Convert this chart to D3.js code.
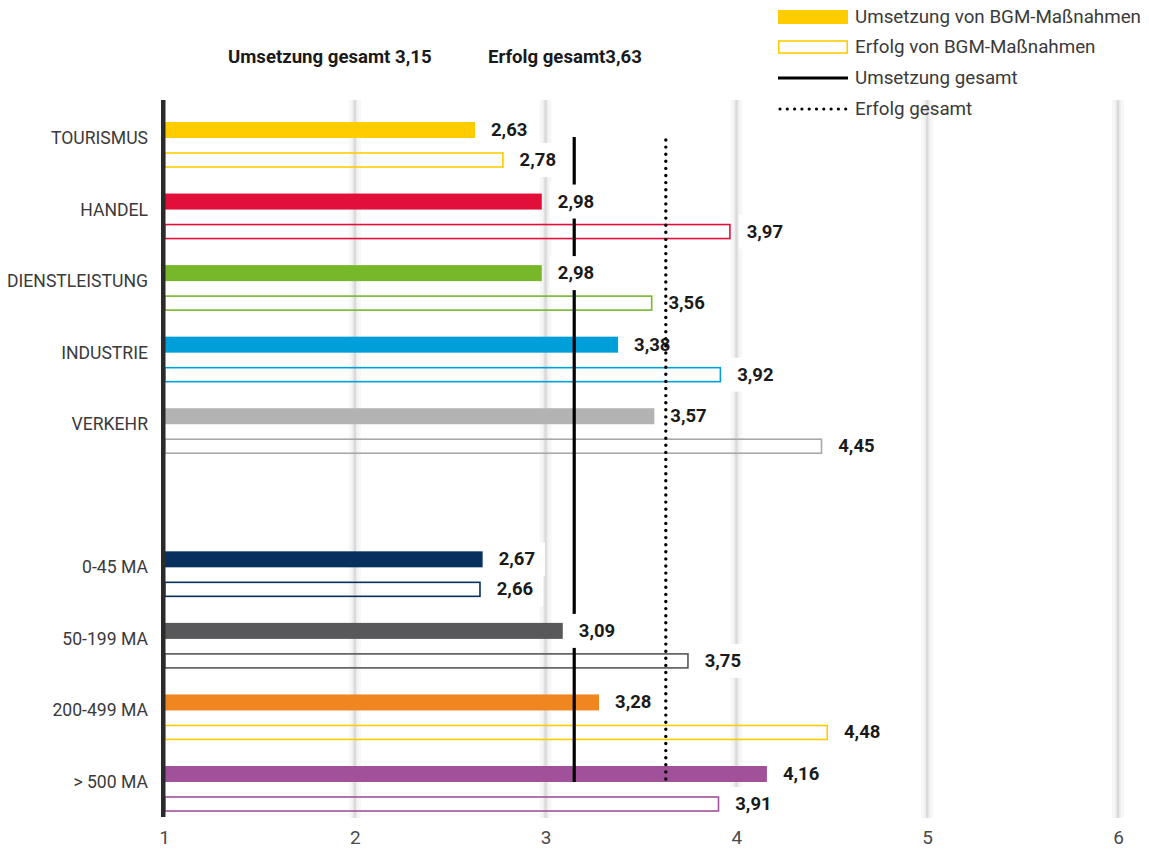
<!DOCTYPE html>
<html><head><meta charset="utf-8">
<script src="https://cdn.jsdelivr.net/npm/d3@7"></script>
<style>
body{margin:0;background:#fff;}
svg{display:block;}
</style></head>
<body>
<svg id="chart" width="1149" height="851"></svg>
<script>
// ---- data ----
const categories = ["TOURISMUS","HANDEL","DIENSTLEISTUNG","INDUSTRIE","VERKEHR","","0-45 MA","50-199 MA","200-499 MA","> 500 MA"];
const umsetzung  = [2.63, 2.98, 2.98, 3.38, 3.57, null, 2.67, 3.09, 3.28, 4.16];
const erfolg     = [2.78, 3.97, 3.56, 3.92, 4.45, null, 2.66, 3.75, 4.48, 3.91];
const fillColors    = ["#FFCC00","#E30F3B","#77B82B","#009FDA","#B3B3B3",null,"#07305F","#58585A","#EF861F","#A05199"];
const outlineColors = ["#FFCC00","#E30F3B","#77B82B","#009FDA","#A8A8A8",null,"#07305F","#58585A","#FFCC00","#A05199"];
const tickValues = [1,2,3,4,5,6];
const umsetzungGesamt = 3.15;
const erfolgGesamt = 3.63;
const legendLabels = ["Umsetzung von BGM-Maßnahmen","Erfolg von BGM-Maßnahmen","Umsetzung gesamt","Erfolg gesamt"];

const fmt = v => d3.format(".2f")(v).replace(".", ",");

const svg = d3.select("#chart");
const x = d3.scaleLinear().domain([1,6]).range([164,1118]);
const y = d3.scalePoint().domain(categories).range([145,789]);
const FONT = "Roboto, 'Noto Sans', sans-serif";

// gridlines (soft gray)
const grid = svg.append("g");
tickValues.slice(1).forEach(t => {
  grid.append("rect").attr("x", x(t)-6).attr("y",100).attr("width",12).attr("height",718).attr("fill","#f7f7f7");
  grid.append("rect").attr("x", x(t)-3).attr("y",100).attr("width",6).attr("height",718).attr("fill","#eeeeee");
  grid.append("rect").attr("x", x(t)-1.2).attr("y",100).attr("width",2.4).attr("height",718).attr("fill","#dadada");
});

const rows = categories.map((c,i)=>({c,i,u:umsetzung[i],e:erfolg[i],fc:fillColors[i],oc:outlineColors[i]})).filter(d=>d.c!=="");

// filled bars
svg.append("g").selectAll("rect").data(rows).join("rect")
  .attr("x", x(1)).attr("y", d=>y(d.c)-23)
  .attr("width", d=>x(d.u)-x(1)).attr("height",16)
  .attr("fill", d=>d.fc);

// outline bars
svg.append("g").selectAll("rect").data(rows).join("rect")
  .attr("x", x(1)+0.75).attr("y", d=>y(d.c)+8)
  .attr("width", d=>x(d.e)-x(1)-1.5).attr("height",14)
  .attr("fill","none").attr("stroke", d=>d.oc).attr("stroke-width",1.6);

// y axis line
svg.append("rect").attr("x",161).attr("y",100).attr("width",4.5).attr("height",717).attr("fill","#2b2b2b");

// Umsetzung gesamt line
const firstC = categories[0], lastC = categories[categories.length-1];
svg.append("line").attr("x1",x(umsetzungGesamt)).attr("x2",x(umsetzungGesamt))
  .attr("y1", y(firstC)-8).attr("y2", y(lastC)-7)
  .attr("stroke","#000").attr("stroke-width",3.2);

// value labels with white boxes
const labG = svg.append("g");
const labels = [];
rows.forEach(d=>{
  labels.push({v:d.u, cy:y(d.c)-15});
  labels.push({v:d.e, cy:y(d.c)+15});
});
labels.forEach(l=>{
  const t = labG.append("text").attr("x", x(l.v)+16).attr("y", l.cy)
    .attr("dominant-baseline","central")
    .attr("font-family",FONT).attr("font-weight","bold").attr("font-size",18.5)
    .attr("fill","#1a1a1a").text(fmt(l.v));
  const w = t.node().getComputedTextLength();
  labG.insert("rect", "text").attr("x", x(l.v)+8).attr("y", l.cy-17).attr("width", w+18).attr("height",34).attr("fill","#fff");
});

// Erfolg gesamt dotted line
svg.append("line").attr("x1",x(erfolgGesamt)).attr("x2",x(erfolgGesamt))
  .attr("y1", y(firstC)-5).attr("y2", y(lastC)-7)
  .attr("stroke","#000").attr("stroke-width",3.4)
  .attr("stroke-linecap","round").attr("stroke-dasharray","0 7.1");

// category labels
svg.append("g").selectAll("text").data(rows).join("text")
  .attr("x",148).attr("y", d=>y(d.c)-7)
  .attr("text-anchor","end").attr("dominant-baseline","central")
  .attr("font-family",FONT).attr("font-size",17.6).attr("fill","#3a3a3a")
  .text(d=>d.c);

// x axis ticks
const xAxis = d3.axisBottom(x).tickValues(tickValues).tickSize(0).tickPadding(0).tickFormat(d3.format("d"));
const ax = svg.append("g").attr("transform","translate(0,830)").call(xAxis);
ax.select(".domain").remove();
ax.selectAll("text").attr("font-family","'Liberation Sans Narrow', Roboto, sans-serif").attr("font-size",19).attr("fill","#4a4a4a").attr("dy","0.71em");

// titles
svg.append("text").attr("x",228).attr("y",63).attr("font-family",FONT).attr("font-weight","bold").attr("font-size",18.6).attr("fill","#1a1a1a")
  .text("Umsetzung gesamt " + fmt(umsetzungGesamt));
svg.append("text").attr("x",488).attr("y",63).attr("font-family",FONT).attr("font-weight","bold").attr("font-size",18.6).attr("fill","#1a1a1a")
  .text("Erfolg gesamt" + fmt(erfolgGesamt));

// legend
const lg = svg.append("g");
const ly = [17,47,78,109];
lg.append("rect").attr("x",778).attr("y",ly[0]-7).attr("width",70).attr("height",14).attr("fill","#FFCC00");
lg.append("rect").attr("x",778.75).attr("y",ly[1]-6).attr("width",68.5).attr("height",12).attr("fill","none").attr("stroke","#FFCC00").attr("stroke-width",1.6);
lg.append("line").attr("x1",778).attr("x2",848).attr("y1",ly[2]).attr("y2",ly[2]).attr("stroke","#000").attr("stroke-width",3.2);
lg.append("line").attr("x1",780).attr("x2",848).attr("y1",ly[3]).attr("y2",ly[3]).attr("stroke","#000").attr("stroke-width",3.2).attr("stroke-linecap","round").attr("stroke-dasharray","0 7.3");
legendLabels.forEach((s,i)=>{
  lg.append("text").attr("x",855).attr("y",ly[i]).attr("dominant-baseline","central")
    .attr("font-family",FONT).attr("font-size",18.8).attr("fill","#3a3a3a").text(s);
});
</script>
</body></html>
